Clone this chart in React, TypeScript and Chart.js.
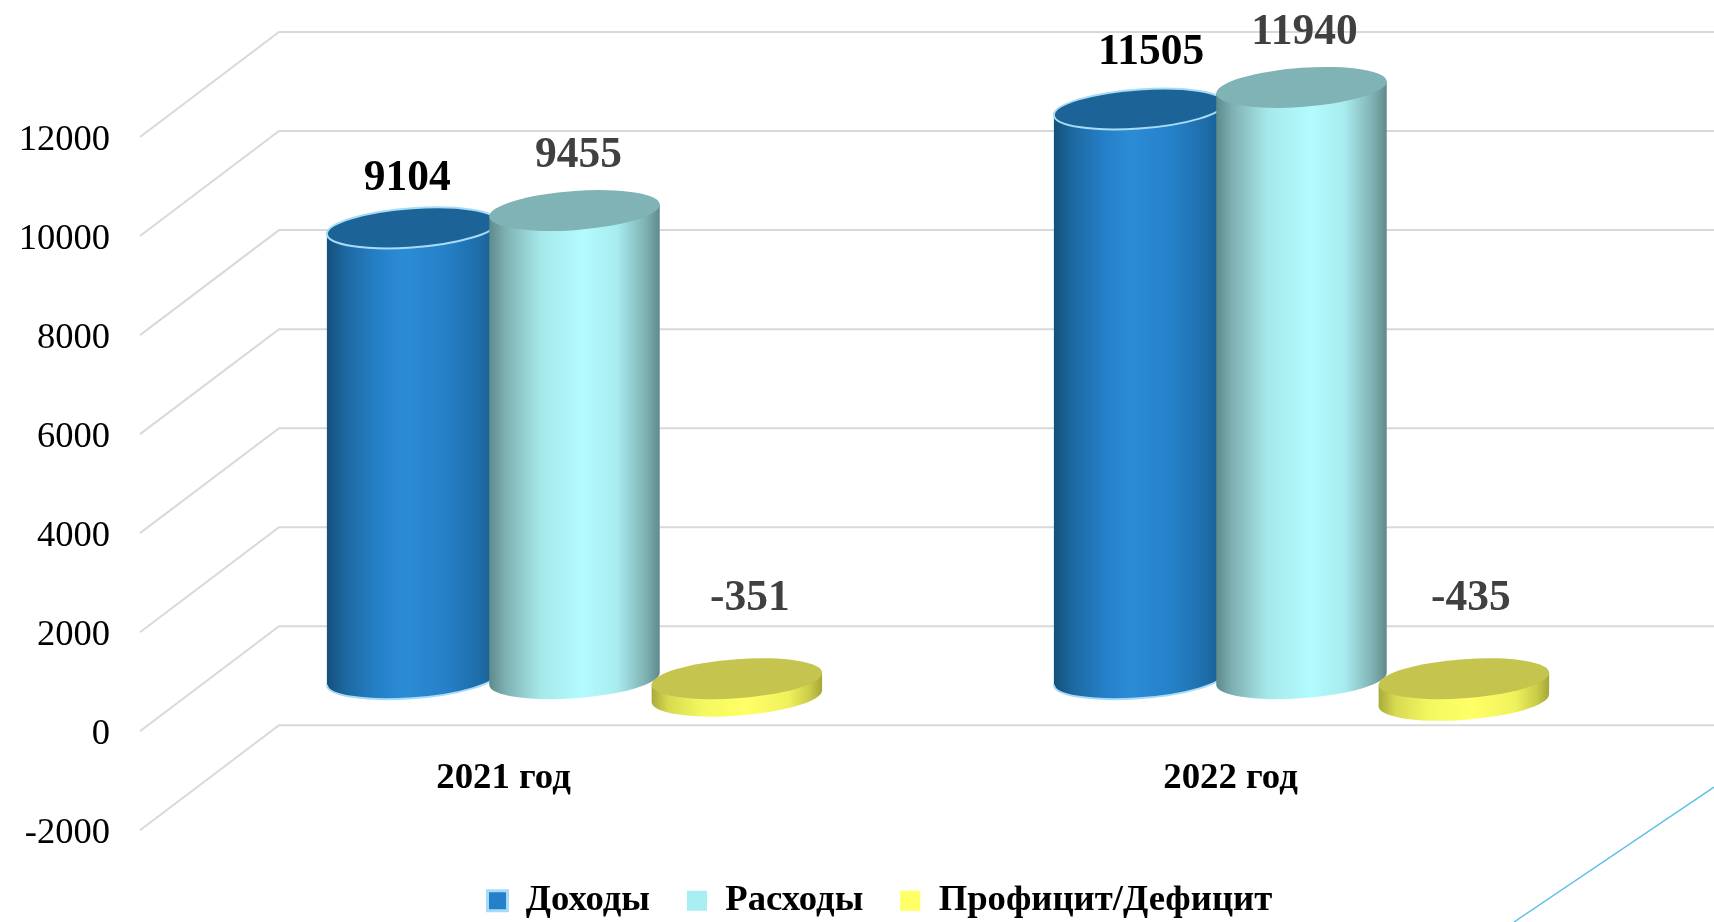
import React, { useEffect, useRef } from "react";
import { Chart, registerables } from "chart.js";

Chart.register(...registerables);

const categories = ["2021 год", "2022 год"];
const seriesNames = ["Доходы", "Расходы", "Профицит/Дефицит"];
const incomeValues = [9104, 11505];
const expenseValues = [9455, 11940];
const balanceValues = [-351, -435];
const yMin = -2000;
const yMax = 12000;
const yStep = 2000;

const FONT = "'Liberation Serif', 'Times New Roman', serif";
const depthX = 139;
const depthY = 105;
const midX = depthX / 2 + 1.5;
const midY = depthY / 2;
const capB = 19.6;
const shear = 0.07;
const radiusRatio = 0.525;

const looks = [
  {
    swatch: "#2480c8", edge: "#a8dbf7", cap: "#1c6497", labelColor: "#000000",
    stops: [[0, "#14507c"], [0.12, "#1d6aa3"], [0.3, "#2580c8"], [0.45, "#2b8cd6"], [0.7, "#2580c8"], [0.9, "#1e6ca8"], [1, "#175a8c"]],
  },
  {
    swatch: "#a9eef2", edge: null, cap: "#7fb3b5", labelColor: "#404040",
    stops: [[0, "#5e8a8c"], [0.1, "#80b2b3"], [0.3, "#a6e8ea"], [0.55, "#b2fbff"], [0.75, "#a8ecef"], [0.92, "#7fb0b1"], [1, "#5f8a8c"]],
  },
  {
    swatch: "#ffff66", edge: null, cap: "#c4c44e", labelColor: "#404040",
    stops: [[0, "#a9aa3c"], [0.1, "#d8da50"], [0.3, "#f4f860"], [0.55, "#ffff66"], [0.8, "#f0f25c"], [0.93, "#c9ca48"], [1, "#a5a63a"]],
  },
];

// manual nudges of the value labels, [dx, dy] from their default place above the cylinder
const labelNudges = [
  [[-5, 5], [12, -2]],
  [[4, 0], [3, 0]],
  [[13, 0], [7, 0]],
];

const cylinderPlugin = {
  id: "cylinders",
  afterLayout(chart: any) {
    const l = chart.legend;
    if (l) {
      l.left = 450.5;
      l.top += 15;
      l.bottom += 15;
    }
  },
  beforeDatasetsDraw(chart: any) {
    const { ctx, scales, chartArea, width } = chart;
    const y = scales.y;
    ctx.save();
    ctx.strokeStyle = "#d9d9d9";
    ctx.lineWidth = 2;
    y.ticks.forEach((t: any) => {
      const py = y.getPixelForValue(t.value);
      ctx.beginPath();
      ctx.moveTo(chartArea.left, py);
      ctx.lineTo(chartArea.left + depthX, py - depthY);
      ctx.lineTo(width, py - depthY);
      ctx.stroke();
    });
    // decorative slide line in the corner
    ctx.strokeStyle = "#5bbfe6";
    ctx.lineWidth = 1.5;
    ctx.beginPath();
    ctx.moveTo(1514, 922);
    ctx.lineTo(1714, 787);
    ctx.stroke();
    ctx.restore();
  },
  beforeDatasetDraw() {
    return false;
  },
  afterDatasetsDraw(chart: any) {
    const { ctx } = chart;
    chart.data.datasets.forEach((_: any, di: number) => {
      const meta = chart.getDatasetMeta(di);
      const look = looks[di];
      meta.data.forEach((bar: any) => {
        const a = bar.width * radiusRatio;
        const cx = bar.x + midX;
        const top = Math.min(bar.y, bar.base) - midY;
        const h = Math.abs(bar.base - bar.y);
        ctx.save();
        ctx.transform(1, -shear, 0, 1, cx, top);
        const g = ctx.createLinearGradient(-a, 0, a, 0);
        look.stops.forEach((s: any) => g.addColorStop(s[0], s[1]));
        ctx.beginPath();
        ctx.moveTo(-a, 0);
        ctx.lineTo(-a, h);
        ctx.ellipse(0, h, a, capB, 0, Math.PI, 0, true);
        ctx.lineTo(a, 0);
        ctx.closePath();
        ctx.fillStyle = g;
        ctx.fill();
        if (look.edge) {
          ctx.beginPath();
          ctx.ellipse(0, h, a, capB, 0, Math.PI, 0, true);
          ctx.strokeStyle = look.edge;
          ctx.lineWidth = 2;
          ctx.stroke();
        }
        ctx.beginPath();
        ctx.ellipse(0, 0, a, capB, 0, 0, Math.PI * 2);
        ctx.fillStyle = look.cap;
        ctx.fill();
        if (look.edge) {
          ctx.strokeStyle = look.edge;
          ctx.lineWidth = 2;
          ctx.stroke();
        }
        ctx.restore();
      });
    });
    ctx.save();
    ctx.font = `bold 43.5px ${FONT}`;
    ctx.textAlign = "center";
    ctx.textBaseline = "middle";
    chart.data.datasets.forEach((ds: any, di: number) => {
      const meta = chart.getDatasetMeta(di);
      meta.data.forEach((bar: any, i: number) => {
        const v = ds.data[i];
        const top = Math.min(bar.y, bar.base) - midY;
        const lift = v < 0 ? 80 : 54.5;
        const n = labelNudges[di][i];
        ctx.fillStyle = looks[di].labelColor;
        ctx.fillText(String(v), bar.x + midX + n[0], top - lift + n[1]);
      });
    });
    ctx.restore();
  },
};

export default function App() {
  const ref = useRef<HTMLCanvasElement | null>(null);
  useEffect(() => {
    const chart = new Chart(ref.current as HTMLCanvasElement, {
      type: "bar",
      data: {
        labels: categories,
        datasets: [incomeValues, expenseValues, balanceValues].map((d, i) => ({
          label: seriesNames[i],
          data: d,
          backgroundColor: looks[i].swatch,
          borderColor: looks[i].edge || looks[i].swatch,
          borderWidth: i === 0 ? 3 : 0,
          categoryPercentage: 0.67,
          barPercentage: 1,
        })),
      },
      options: {
        responsive: false,
        animation: false,
        layout: { padding: { top: 137, left: 0, right: 120, bottom: 8 } },
        plugins: {
          tooltip: { enabled: false },
          title: { display: false },
          legend: {
            display: true,
            position: "bottom",
            align: "start",
            maxHeight: 84,
            labels: {
              boxWidth: 20,
              boxHeight: 20,
              padding: 37,
              color: "#000000",
              font: { family: FONT, size: 36.7, weight: "bold" },
            },
          },
        },
        scales: {
          x: {
            type: "category",
            position: { y: 0 },
            grid: { display: false },
            border: { display: false },
            ticks: {
              padding: 17,
              color: "#000000",
              font: { family: FONT, size: 36.8, weight: "bold" },
              maxRotation: 0,
            },
          },
          y: {
            type: "linear",
            min: yMin,
            max: yMax,
            grid: { display: false },
            border: { display: false },
            ticks: {
              stepSize: yStep,
              padding: 22,
              labelOffset: 3,
              color: "#000000",
              font: { family: FONT, size: 36.5 },
              callback: (v: any) => String(v),
            },
            afterFit(scale: any) {
              scale.width = 140;
            },
          },
        },
      },
      plugins: [cylinderPlugin],
    } as any);
    return () => chart.destroy();
  }, []);
  return (
    <div style={{ position: "fixed", left: 0, top: 0, width: 1714, height: 922, background: "#fff" }}>
      <canvas ref={ref} width={1714} height={922} style={{ display: "block" }} />
    </div>
  );
}
